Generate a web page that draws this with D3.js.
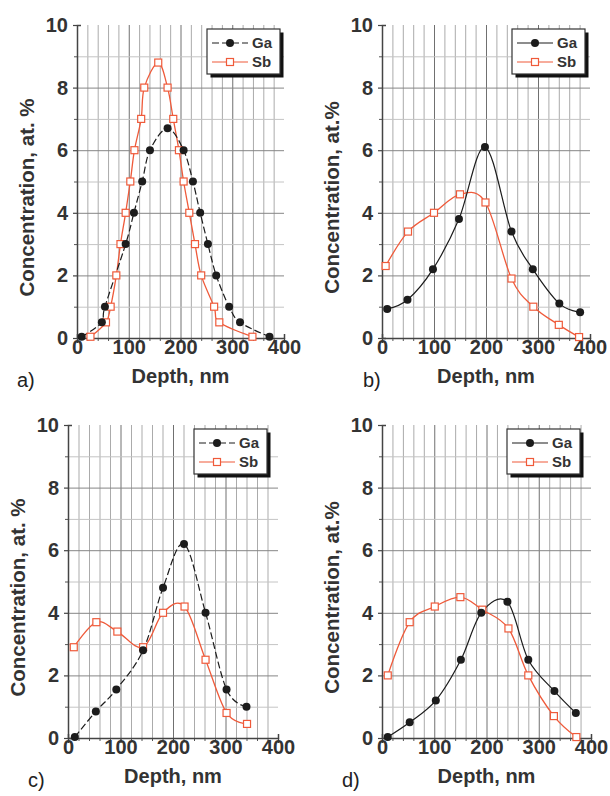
<!DOCTYPE html>
<html>
<head>
<meta charset="utf-8">
<script src="https://cdn.jsdelivr.net/npm/d3@7"></script>
<style>
    body { margin: 0; background: #fff; }
    svg { display: block; font-family: "Liberation Sans", Arial, sans-serif; }
</style>
</head>
<body>
<div id="depth-profiles"></div>
<script>
// depth (nm) and concentration (at. %)
var vGaDepthA = [9, 48, 54, 94, 110, 126, 141, 175, 206, 224, 238, 253, 269, 294, 315, 372];
var vGaConcA = [0.04, 0.5, 1.0, 3.0, 4.0, 5.0, 6.0, 6.7, 6.0, 5.0, 4.0, 3.0, 2.0, 1.0, 0.5, 0.04];
var vSbDepthA = [26, 56, 65, 76, 84, 94, 103, 111, 124, 130, 157, 175, 186, 197, 206, 217, 228, 240, 265, 275, 339];
var vSbConcA = [0.04, 0.5, 1.0, 2.0, 3.0, 4.0, 5.0, 6.0, 7.0, 8.0, 8.8, 8.0, 7.0, 6.0, 5.0, 4.0, 3.0, 2.0, 1.0, 0.5, 0.04];

var vGaDepthB = [10, 49, 98, 148, 198, 249, 290, 341, 381];
var vGaConcB = [0.93, 1.22, 2.2, 3.8, 6.1, 3.4, 2.2, 1.1, 0.82];
var vSbDepthB = [7, 50, 100, 150, 199, 249, 291, 340, 379];
var vSbConcB = [2.3, 3.4, 4.0, 4.59, 4.33, 1.9, 1.0, 0.42, 0.03];

var vGaDepthC = [13, 53, 92, 143, 181, 221, 262, 302, 340];
var vGaConcC = [0.03, 0.85, 1.55, 2.8, 4.8, 6.2, 4.0, 1.55, 1.0];
var vSbDepthC = [11, 54, 94, 143, 181, 222, 262, 302, 341];
var vSbConcC = [2.9, 3.7, 3.4, 2.9, 4.0, 4.2, 2.5, 0.8, 0.45];

var vGaDepthD = [11, 53, 103, 151, 190, 240, 280, 330, 371];
var vGaConcD = [0.03, 0.5, 1.2, 2.5, 4.0, 4.35, 2.5, 1.5, 0.8];
var vSbDepthD = [11, 53, 101, 150, 192, 242, 280, 329, 372];
var vSbConcD = [2.0, 3.7, 4.2, 4.5, 4.1, 3.5, 2.0, 0.7, 0.03];

var vXTicks = [0, 100, 200, 300, 400];
var vYTicks = [0, 2, 4, 6, 8, 10];
var vSeriesNames = ["Ga", "Sb"];
var vPanelLetters = ["a)", "b)", "c)", "d)"];
var vYTitles = ["Concentration, at. %", "Concentration, at.%", "Concentration, at. %", "Concentration, at.%"];
var vXTitle = "Depth, nm";

(function (d3) {

    var cGa = "#1c1c1c",
        cSb = "#ef5a3a",
        cText = "#333";

    // plot boxes in page pixels, plus a few per-panel offsets
    var vPanels = [
        { mLeft: 77, mTop: 25, mWidth: 207, mHeight: 313, mLegRight: 4, mLetterX: -60, mGaDash: "7,3",
          ga: [vGaDepthA, vGaConcA], sb: [vSbDepthA, vSbConcA] },
        { mLeft: 382, mTop: 25, mWidth: 208, mHeight: 313, mLegRight: 5, mLetterX: -19, mGaDash: null,
          ga: [vGaDepthB, vGaConcB], sb: [vSbDepthB, vSbConcB] },
        { mLeft: 68, mTop: 425, mWidth: 210, mHeight: 313, mLegRight: 11, mLetterX: -40, mGaDash: "7,3",
          ga: [vGaDepthC, vGaConcC], sb: [vSbDepthC, vSbConcC] },
        { mLeft: 382, mTop: 425, mWidth: 209, mHeight: 313, mLegRight: 11, mLetterX: -40, mGaDash: null,
          ga: [vGaDepthD, vGaConcD], sb: [vSbDepthD, vSbConcD] }
    ];

    var svg = d3.select("#depth-profiles")
        .append("svg")
        .attr("width", 610)
        .attr("height", 796);

    vPanels.forEach(function (aPanel, aIdx) {
        var vW = aPanel.mWidth,
            vH = aPanel.mHeight;

        var g = svg.append("g")
            .attr("transform", "translate(" + aPanel.mLeft + "," + aPanel.mTop + ")");

        var vX = d3.scaleLinear().domain([0, 400]).range([0, vW]);
        var vY = d3.scaleLinear().domain([0, 10]).range([vH, 0]);

        // grid
        g.append("g")
            .attr("transform", "translate(0," + vH + ")")
            .call(d3.axisBottom(vX).tickValues(d3.range(20, 400, 20)).tickSize(-vH).tickFormat(""))
            .call(function (aSel) {
                aSel.select(".domain").remove();
                aSel.selectAll(".tick line")
                    .attr("stroke", function (aD) { return aD % 100 === 0 ? "#707070" : "#ababab"; })
                    .attr("stroke-width", 1);
            });

        g.append("g")
            .call(d3.axisLeft(vY).tickValues(d3.range(1, 10)).tickSize(-vW).tickFormat(""))
            .call(function (aSel) {
                aSel.select(".domain").remove();
                aSel.selectAll(".tick line")
                    .attr("stroke", function (aD) { return aD % 2 === 0 ? "#858585" : "#c4c4c4"; })
                    .attr("stroke-width", 1);
            });

        // minor ticks
        g.append("g")
            .attr("transform", "translate(0," + vH + ")")
            .call(d3.axisBottom(vX).tickValues(d3.range(20, 400, 20)).tickSize(3).tickFormat(""))
            .call(function (aSel) {
                aSel.select(".domain").remove();
                aSel.selectAll(".tick line").attr("stroke", "#555");
            });
        g.append("g")
            .call(d3.axisLeft(vY).tickValues(d3.range(1, 10, 2)).tickSize(3).tickFormat(""))
            .call(function (aSel) {
                aSel.select(".domain").remove();
                aSel.selectAll(".tick line").attr("stroke", "#555");
            });

        // main axes
        g.append("g")
            .attr("transform", "translate(0," + vH + ")")
            .call(d3.axisBottom(vX).tickValues(vXTicks).tickSize(5).tickSizeOuter(-4))
            .call(function (aSel) {
                aSel.select(".domain").attr("stroke", "#444").attr("stroke-width", 1.5);
                aSel.selectAll(".tick line").attr("stroke", "#444").attr("stroke-width", 1.2);
                aSel.selectAll(".tick text")
                    .attr("y", 2)
                    .attr("fill", cText)
                    .style("font-size", "20px")
                    .style("font-weight", "bold");
            });

        g.append("g")
            .call(d3.axisLeft(vY).tickValues(vYTicks).tickSize(4).tickPadding(5).tickSizeOuter(-4))
            .call(function (aSel) {
                aSel.select(".domain").attr("stroke", "#444").attr("stroke-width", 1.5);
                aSel.selectAll(".tick line").attr("stroke", "#444").attr("stroke-width", 1.2);
                aSel.selectAll(".tick text")
                    .attr("fill", cText)
                    .style("font-size", "20px")
                    .style("font-weight", "bold");
            });

        // titles
        g.append("text")
            .attr("x", vW / 2)
            .attr("y", vH + 45)
            .attr("text-anchor", "middle")
            .attr("fill", cText)
            .style("font-size", "20px")
            .style("font-weight", "bold")
            .text(vXTitle);

        g.append("text")
            .attr("transform", "translate(" + (-43) + "," + (vH / 2 + 16) + ")rotate(-90)")
            .attr("text-anchor", "middle")
            .attr("fill", cText)
            .style("font-size", "20.5px")
            .style("font-weight", "bold")
            .text(vYTitles[aIdx]);

        g.append("text")
            .attr("x", aPanel.mLetterX)
            .attr("y", vH + 49)
            .attr("fill", "#222")
            .style("font-size", "20px")
            .text(vPanelLetters[aIdx]);

        // curves
        var vClipId = "clip-" + aIdx;
        g.append("clipPath")
            .attr("id", vClipId)
            .append("rect")
            .attr("width", vW)
            .attr("height", vH);

        var vLine = d3.line()
            .x(function (aD) { return vX(aD[0]); })
            .y(function (aD) { return vY(aD[1]); })
            .curve(d3.curveCatmullRom.alpha(0));

        var vGaPts = d3.zip(aPanel.ga[0], aPanel.ga[1]);
        var vSbPts = d3.zip(aPanel.sb[0], aPanel.sb[1]);

        g.append("path")
            .datum(vSbPts)
            .attr("clip-path", "url(#" + vClipId + ")")
            .attr("fill", "none")
            .attr("stroke", cSb)
            .attr("stroke-width", 1.3)
            .attr("d", vLine);

        g.append("path")
            .datum(vGaPts)
            .attr("clip-path", "url(#" + vClipId + ")")
            .attr("fill", "none")
            .attr("stroke", cGa)
            .attr("stroke-width", 1.2)
            .attr("stroke-dasharray", aPanel.mGaDash)
            .attr("d", vLine);

        g.selectAll(".sb-pt")
            .data(vSbPts)
            .enter()
            .append("rect")
            .attr("class", "sb-pt")
            .attr("x", function (aD) { return vX(aD[0]) - 3.5; })
            .attr("y", function (aD) { return vY(aD[1]) - 3.5; })
            .attr("width", 7)
            .attr("height", 7)
            .attr("fill", "#fff")
            .attr("stroke", cSb)
            .attr("stroke-width", 1.2);

        g.selectAll(".ga-pt")
            .data(vGaPts)
            .enter()
            .append("circle")
            .attr("class", "ga-pt")
            .attr("cx", function (aD) { return vX(aD[0]); })
            .attr("cy", function (aD) { return vY(aD[1]); })
            .attr("r", 4)
            .attr("fill", cGa);

        // legend box with drop shadow
        var vLegW = 73, vLegH = 45;
        var leg = g.append("g")
            .attr("transform", "translate(" + (vW - aPanel.mLegRight - vLegW) + ",4)");
        leg.append("rect")
            .attr("x", 3.5).attr("y", 3.5)
            .attr("width", vLegW).attr("height", vLegH)
            .attr("fill", "#111");
        leg.append("rect")
            .attr("width", vLegW).attr("height", vLegH)
            .attr("fill", "#fff")
            .attr("stroke", "#333")
            .attr("stroke-width", 1.2);

        vSeriesNames.forEach(function (aName, aRow) {
            var vRowY = 14 + aRow * 19;
            var vColor = aRow === 0 ? cGa : cSb;
            leg.append("line")
                .attr("x1", 5).attr("x2", 41)
                .attr("y1", vRowY).attr("y2", vRowY)
                .attr("stroke", vColor)
                .attr("stroke-width", 1.2)
                .attr("stroke-dasharray", aRow === 0 ? aPanel.mGaDash : null);
            if (aRow === 0) {
                leg.append("circle")
                    .attr("cx", 23).attr("cy", vRowY).attr("r", 4)
                    .attr("fill", cGa);
            } else {
                leg.append("rect")
                    .attr("x", 19.5).attr("y", vRowY - 3.5)
                    .attr("width", 7).attr("height", 7)
                    .attr("fill", "#fff")
                    .attr("stroke", cSb)
                    .attr("stroke-width", 1.2);
            }
            leg.append("text")
                .attr("x", 45)
                .attr("y", vRowY + 5)
                .attr("fill", cText)
                .style("font-size", "15px")
                .style("font-weight", "bold")
                .text(aName);
        });
    });

})(d3);
</script>
</body>
</html>
